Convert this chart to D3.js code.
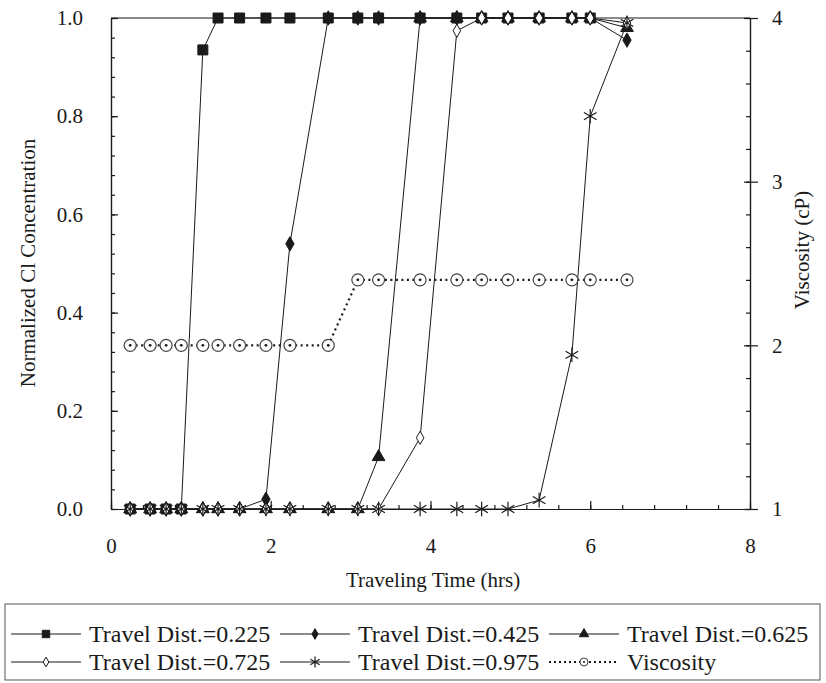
<!DOCTYPE html>
<html>
<head>
<meta charset="utf-8">
<script src="https://cdn.jsdelivr.net/npm/d3@7"></script>
<style>
  body { margin: 0; background: #fff; }
</style>
</head>
<body>
<svg width="826" height="683"></svg>
<script>
// sampling times (hrs)
var times = [0.24, 0.49, 0.69, 0.88, 1.15, 1.34, 1.61, 1.94, 2.24, 2.72,
             3.09, 3.35, 3.87, 4.33, 4.64, 4.97, 5.36, 5.77, 6.0, 6.46];

// normalized Cl concentration per travel distance
var dist225 = [0, 0, 0, 0, 0.935, 1, 1, 1, 1, 1, 1, 1, 1, 1, 1, 1, 1, 1, 1];
var dist425 = [0, 0, 0, 0, 0, 0, 0, 0.02, 0.54, 1, 1, 1, 1, 1, 1, 1, 1, 1, 1, 0.955];
var dist625 = [0, 0, 0, 0, 0, 0, 0, 0, 0, 0, 0, 0.106, 1, 1, 1, 1, 1, 1, 1, 0.98];
var dist725 = [0, 0, 0, 0, 0, 0, 0, 0, 0, 0, 0, 0, 0.145, 0.974, 1, 1, 1, 1, 1, 0.99];
var dist975 = [0, 0, 0, 0, 0, 0, 0, 0, 0, 0, 0, 0, 0, 0, 0, 0, 0.018, 0.314, 0.8, 0.99];

// viscosity (cP), right axis
var viscosity = [2, 2, 2, 2, 2, 2, 2, 2, 2, 2, 2.4, 2.4, 2.4, 2.4, 2.4, 2.4, 2.4, 2.4, 2.4, 2.4];

var xTicks = [0, 2, 4, 6, 8];
var yTicks = [0, 0.2, 0.4, 0.6, 0.8, 1.0];
var y2Ticks = [1, 2, 3, 4];

var legendNames = ["Travel Dist.=0.225", "Travel Dist.=0.425", "Travel Dist.=0.625",
                   "Travel Dist.=0.725", "Travel Dist.=0.975", "Viscosity"];

var svg = d3.select("svg");
var ink = "#1a1a1a";
var serif = "'Liberation Serif', 'Times New Roman', serif";

var x = d3.scaleLinear().domain([0, 8]).range([111, 750]);
var y = d3.scaleLinear().domain([0, 1]).range([509, 18]);
var y2 = d3.scaleLinear().domain([1, 4]).range([509, 18]);

// frame top line
svg.append("line")
  .attr("x1", x(0)).attr("x2", x(8))
  .attr("y1", y(1)).attr("y2", y(1))
  .attr("stroke", ink).attr("stroke-width", 1.2);

function styleAxis(g) {
  g.attr("font-family", null);
  g.selectAll("path, line").attr("stroke", ink).attr("stroke-width", 1.2);
  g.selectAll("text")
    .style("font-family", serif)
    .style("font-size", "21px")
    .attr("fill", ink);
}

// x axis: minor + major
svg.append("g")
  .attr("transform", "translate(0," + y(0) + ")")
  .call(d3.axisBottom(x).tickValues(d3.range(0, 8.01, 0.4)).tickSize(-4).tickFormat("").tickSizeOuter(0))
  .call(styleAxis);
svg.append("g")
  .attr("transform", "translate(0," + y(0) + ")")
  .call(d3.axisBottom(x).tickValues(xTicks).tickSize(-8).tickPadding(29).tickFormat(d3.format("d")).tickSizeOuter(0))
  .call(styleAxis);

// left axis
svg.append("g")
  .attr("transform", "translate(" + x(0) + ",0)")
  .call(d3.axisLeft(y).tickValues(d3.range(0, 1.001, 0.04)).tickSize(-4).tickFormat("").tickSizeOuter(0))
  .call(styleAxis);
svg.append("g")
  .attr("transform", "translate(" + x(0) + ",0)")
  .call(d3.axisLeft(y).tickValues(yTicks).tickSize(-7).tickPadding(28).tickFormat(d3.format(".1f")).tickSizeOuter(0))
  .call(styleAxis);

// right axis
svg.append("g")
  .attr("transform", "translate(" + x(8) + ",0)")
  .call(d3.axisRight(y2).tickValues(d3.range(1, 4.001, 0.2)).tickSize(-4).tickFormat("").tickSizeOuter(0))
  .call(styleAxis);
var r = svg.append("g")
  .attr("transform", "translate(" + x(8) + ",0)")
  .call(d3.axisRight(y2).tickValues(y2Ticks).tickSize(8).tickPadding(14).tickFormat(d3.format("d")).tickSizeOuter(0))
  .call(styleAxis);
r.selectAll(".tick line").attr("x1", -6);

// axis titles
function title(sel) {
  return sel.style("font-family", serif).style("font-size", "21px").attr("fill", ink);
}
svg.append("text")
  .attr("transform", "translate(30,263) rotate(-90)")
  .attr("text-anchor", "middle").attr("dominant-baseline", "middle")
  .call(title).text("Normalized Cl Concentration");
svg.append("text")
  .attr("transform", "translate(804,250) rotate(-90)")
  .attr("text-anchor", "middle").attr("dominant-baseline", "middle")
  .call(title).text("Viscosity (cP)");
svg.append("text")
  .attr("x", 433).attr("y", 587)
  .attr("text-anchor", "middle")
  .call(title).text("Traveling Time (hrs)");

// series definitions
function pts(vals) { return vals.map(function (v, i) { return { t: times[i], v: v }; }); }

var series = [
  { data: pts(dist225), sym: d3.symbolSquare, size: 100, fill: ink, sw: 1 },
  { data: pts(dist425), sym: d3.symbolDiamond, size: 60, fill: ink, sw: 1 },
  { data: pts(dist625), sym: d3.symbolTriangle, size: 70, fill: ink, sw: 1 },
  { data: pts(dist725), sym: d3.symbolDiamond, size: 50, fill: "#fff", sw: 1 },
  { data: pts(dist975), sym: d3.symbolAsterisk, size: 150, fill: "none", sw: 1.2 }
];

var line = d3.line().x(function (d) { return x(d.t); }).y(function (d) { return y(d.v); });

series.forEach(function (s) {
  svg.append("path")
    .datum(s.data)
    .attr("d", line)
    .attr("fill", "none")
    .attr("stroke", ink)
    .attr("stroke-width", 1);
});

series.forEach(function (s) {
  svg.append("g").selectAll("path")
    .data(s.data)
    .enter()
    .append("path")
    .attr("transform", function (d) { return "translate(" + x(d.t) + "," + y(d.v) + ")"; })
    .attr("d", d3.symbol().type(s.sym).size(s.size))
    .attr("fill", s.fill)
    .attr("stroke", ink)
    .attr("stroke-width", s.sw);
});

// viscosity on right axis
var vData = pts(viscosity);
var vLine = d3.line().x(function (d) { return x(d.t); }).y(function (d) { return y2(d.v); });
svg.append("path")
  .datum(vData)
  .attr("d", vLine)
  .attr("fill", "none")
  .attr("stroke", ink)
  .attr("stroke-width", 2.2)
  .attr("stroke-dasharray", "2,3.5");

var vMarks = svg.append("g").selectAll("g")
  .data(vData)
  .enter()
  .append("g")
  .attr("transform", function (d) { return "translate(" + x(d.t) + "," + y2(d.v) + ")"; });
vMarks.append("circle").attr("r", 6).attr("fill", "#fff").attr("stroke", "#444").attr("stroke-width", 1.2);
vMarks.append("circle").attr("r", 1.4).attr("fill", ink);

// legend
var legend = svg.append("g").attr("id", "legend");
legend.append("rect")
  .attr("x", 5).attr("y", 604).attr("width", 815).attr("height", 76)
  .attr("fill", "none").attr("stroke", "#555").attr("stroke-width", 1);

var legendPos = [
  { x: 11, y: 634 }, { x: 280, y: 634 }, { x: 549, y: 634 },
  { x: 11, y: 662 }, { x: 280, y: 662 }, { x: 549, y: 662 }
];

legendNames.forEach(function (name, i) {
  var p = legendPos[i];
  var item = legend.append("g").attr("transform", "translate(" + p.x + "," + p.y + ")");
  var isV = i === 5;
  item.append("line")
    .attr("x1", 0).attr("x2", 70).attr("y1", 0).attr("y2", 0)
    .attr("stroke", ink)
    .attr("stroke-width", isV ? 2 : 1.2)
    .attr("stroke-dasharray", isV ? "2,3" : null);
  if (isV) {
    item.append("circle").attr("cx", 35).attr("r", 4).attr("fill", "#fff").attr("stroke", "#444");
    item.append("circle").attr("cx", 35).attr("r", 1).attr("fill", ink);
  } else {
    var s = series[i];
    item.append("path")
      .attr("transform", "translate(35,0)")
      .attr("d", d3.symbol().type(s.sym).size(s.size * 0.55))
      .attr("fill", s.fill).attr("stroke", ink).attr("stroke-width", s.sw);
  }
  item.append("text")
    .attr("x", 78).attr("y", 0).attr("dy", "0.35em")
    .style("font-family", serif)
    .style("font-size", "24px")
    .attr("fill", ink)
    .text(name);
});
</script>
</body>
</html>
